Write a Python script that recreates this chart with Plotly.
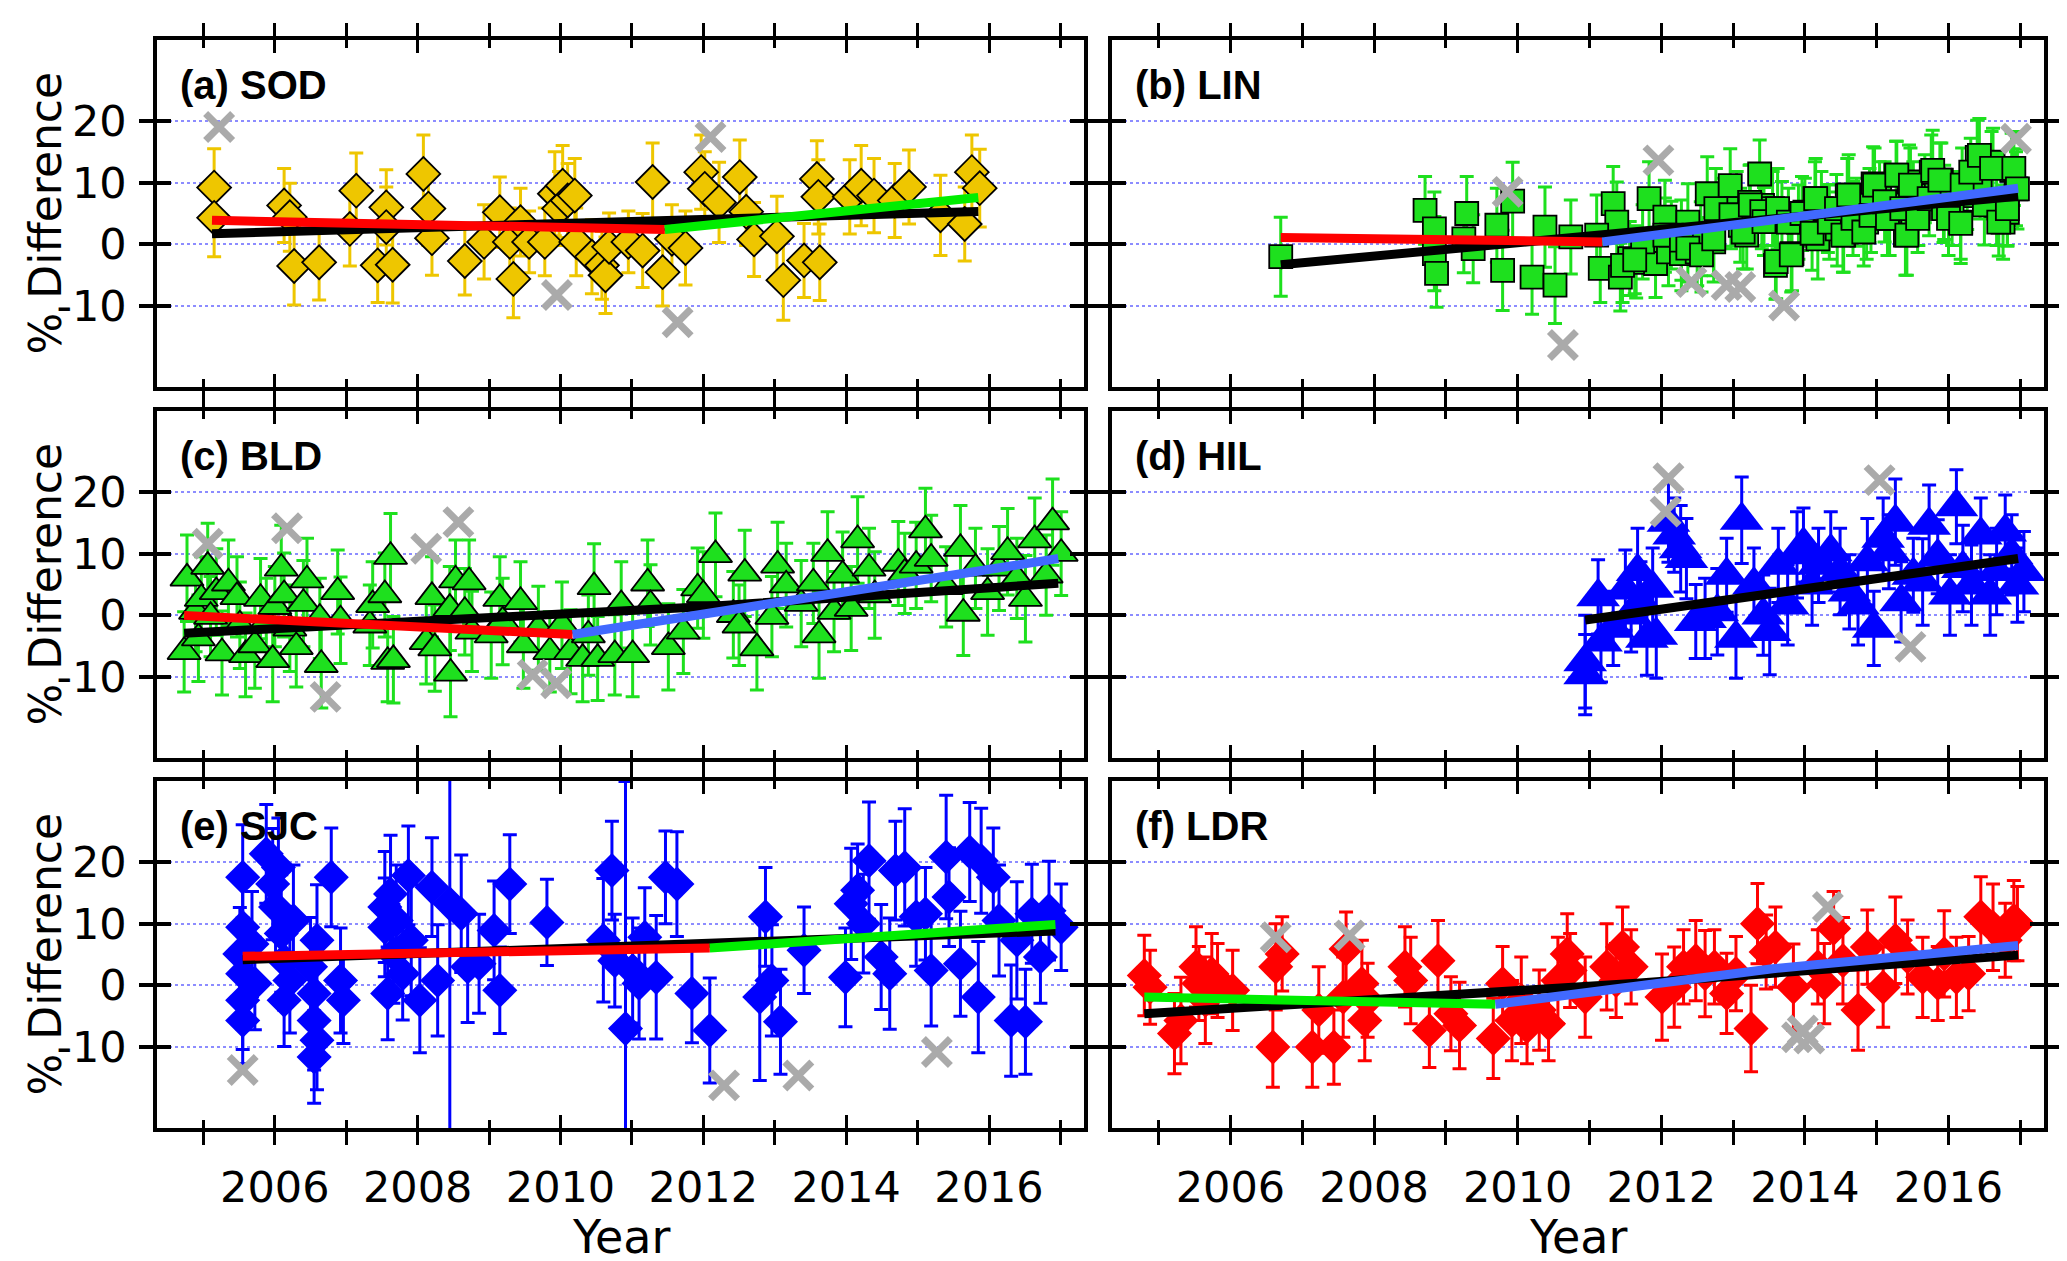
import plotly.graph_objects as go

# percent differences per station

# (a) SOD
sod_year = [2005.15, 2005.15, 2006.13, 2006.21, 2006.27, 2006.62, 2007.05, 2007.14, 2007.44, 2007.56,
            2007.56, 2007.65, 2008.08, 2008.15, 2008.20, 2008.66, 2008.93, 2009.15, 2009.29, 2009.34,
            2009.44, 2009.56, 2009.78, 2009.92, 2009.98, 2010.03, 2010.10, 2010.20, 2010.22, 2010.44,
            2010.58, 2010.63, 2010.68, 2010.95, 2011.15, 2011.29, 2011.43, 2011.56, 2011.75, 2011.97,
            2012.02, 2012.22, 2012.51, 2012.60, 2012.71, 2013.03, 2013.12, 2013.41, 2013.59, 2013.61,
            2013.63, 2014.05, 2014.21, 2014.39, 2014.68, 2014.88, 2015.32, 2015.66, 2015.76, 2015.87]
sod_diff = [9.2, 4.3, 6.3, 4.4, -3.5, -2.9, 2.5, 8.7, -3.4, 6.0,
            2.8, -3.3, 11.4, 5.8, 1.0, -2.7, 0.4, 5.2, 0.4, -5.6,
            3.6, 0.4, 0.4, 8.2, 5.8, 9.5, 7.1, 7.9, 0.4, -2.0,
            -3.4, -5.0, -0.4, 0.4, -1.0, 10.1, -4.5, 0.9, -0.6, 11.7,
            9.0, 6.8, 10.9, 5.3, 0.8, 1.3, -5.8, -2.6, 10.6, 7.7,
            -2.9, 7.7, 9.5, 7.9, 7.1, 9.3, 4.7, 3.3, 11.7, 9.1]
sod_err = [6.3, 6.3, 6.0, 5.5, 6.3, 6.1, 6.0, 6.1, 6.0, 6.1,
           6.5, 6.2, 6.3, 6.0, 6.0, 5.5, 6.0, 5.7, 5.5, 6.3,
           5.5, 5.0, 5.5, 6.8, 6.0, 6.5, 6.0, 6.0, 5.5, 6.0,
           5.5, 6.2, 5.5, 5.0, 6.0, 6.3, 5.5, 5.5, 6.0, 6.0,
           6.0, 6.5, 6.0, 5.5, 6.0, 6.5, 6.5, 6.0, 6.2, 6.0,
           6.2, 6.0, 6.5, 6.0, 6.0, 6.0, 6.5, 6.0, 6.0, 6.3]
sod_out_year = [2005.22, 2009.95, 2012.10, 2011.64]
sod_out_diff = [19.0, -8.2, 17.4, -12.6]
sod_all_year = [2005.12, 2011.80, 2015.85]
sod_all_diff = [1.73, 4.04, 5.34]
sod_early_year = [2005.12, 2008.50, 2011.46]
sod_early_diff = [3.9, 3.0, 2.4]
sod_late_year = [2011.46, 2015.85]
sod_late_diff = [2.4, 7.6]

# (b) LIN
lin_year = [2006.70, 2008.71, 2008.84, 2008.84, 2008.87, 2009.29, 2009.25, 2009.38, 2009.71, 2009.79,
            2009.93, 2010.20, 2010.38, 2010.52, 2010.74, 2011.15, 2011.33, 2011.38, 2011.43, 2011.56,
            2011.65, 2011.83, 2011.92, 2012.05, 2012.10, 2012.28, 2012.37, 2012.50, 2012.64, 2012.73,
            2012.87, 2012.96, 2013.05, 2013.19, 2013.23, 2013.37, 2013.41, 2013.55, 2013.59, 2013.82,
            2013.91, 2014.00, 2014.14, 2014.18, 2014.32, 2014.45, 2014.54, 2014.59, 2014.72, 2014.86,
            2014.95, 2015.04, 2015.18, 2015.27, 2015.40, 2015.45, 2015.58, 2015.67, 2015.76, 2015.90,
            2015.94, 2016.17, 2016.26, 2016.40, 2016.44, 2016.62, 2016.67, 2016.76, 2016.82, 2016.88,
            2016.94, 2011.74, 2012.14, 2012.55, 2013.10, 2013.68, 2014.23, 2014.90, 2015.51, 2016.05,
            2011.10, 2011.46, 2011.63, 2012.05, 2012.28, 2012.37, 2012.56, 2012.73, 2012.76, 2012.97,
            2013.14, 2013.24, 2013.40, 2013.43, 2013.60, 2013.62, 2013.81, 2013.77, 2013.96, 2014.10,
            2014.15, 2014.34, 2014.44, 2014.53, 2014.61, 2014.67, 2014.82, 2014.92, 2014.97, 2015.11,
            2015.15, 2015.28, 2015.35, 2015.42, 2015.47, 2015.57, 2015.73, 2015.78, 2015.88, 2015.93,
            2016.00, 2016.17, 2016.19, 2016.31, 2016.43, 2016.50, 2016.60, 2016.70, 2016.82, 2016.91,
            2016.96]
lin_diff = [-2.0, 5.5, 2.5, -1.5, -4.7, 5.0, 0.9, -0.7, 3.1, -4.2,
            7.0, -5.3, 2.8, -6.6, 1.2, -3.9, 6.6, 3.6, -5.3, -2.3,
            -2.9, 7.4, -3.1, 4.4, -1.2, -1.5, 3.6, -1.2, 8.2, 0.4,
            5.2, 9.5, 5.8, 1.5, 6.8, 11.4, 6.3, 5.8, -3.4, -1.5,
            3.6, 5.2, 7.4, 0.9, 4.2, 2.5, 1.5, 7.9, 5.2, 3.6,
            9.8, 7.9, 4.2, 11.2, 1.5, 10.1, 5.8, 9.0, 11.7, 10.4,
            6.8, 3.6, 7.9, 14.1, 10.1, 13.3, 6.3, 3.6, 5.2, 12.0,
            9.0, 0.4, 1.5, 0.9, 3.1, 4.7, 5.8, 6.3, 7.9, 5.8,
            1.5, -3.4, -2.5, 1.5, 0.7, -0.6, -1.7, 0.9, 5.8, 4.8,
            2.0, 6.4, 5.3, 3.7, -2.8, 5.8, -1.7, 3.6, 5.0, 1.8,
            7.4, 3.6, 5.8, 1.5, 8.0, 4.2, 2.0, 4.7, 9.6, 6.9,
            4.2, 11.2, 5.8, 1.5, 9.6, 4.2, 7.4, 12.0, 10.4, 5.8,
            4.2, 3.4, 9.6, 11.7, 14.4, 6.4, 12.3, 3.6, 5.8, 12.3,
            9.0]
lin_err = [6.4, 5.5, 6.0, 6.0, 5.5, 6.0, 5.5, 5.5, 6.0, 6.5,
           6.3, 6.0, 6.5, 6.2, 6.0, 5.5, 6.0, 6.5, 5.5, 6.0,
           5.8, 6.0, 5.5, 6.0, 5.5, 6.0, 6.2, 5.5, 6.0, 6.5,
           5.5, 6.0, 6.0, 5.5, 6.0, 5.5, 6.5, 6.0, 5.5, 6.0,
           6.0, 5.5, 6.0, 6.5, 5.5, 6.0, 6.0, 6.0, 5.5, 6.0,
           6.0, 5.5, 6.0, 5.5, 6.5, 6.0, 6.0, 5.5, 6.0, 6.0,
           6.0, 6.0, 5.5, 6.0, 6.0, 5.5, 6.5, 6.0, 5.5, 6.0,
           6.0, 6.0, 5.5, 6.0, 6.0, 5.5, 6.0, 6.0, 5.5, 6.0,
           6.5, 6.0, 5.5, 6.0, 6.5, 5.5, 6.0, 6.0, 6.5, 5.5,
           6.0, 6.5, 6.0, 5.5, 6.0, 6.5, 6.0, 5.5, 6.0, 6.0,
           6.5, 6.0, 5.5, 6.0, 6.5, 6.0, 5.5, 6.0, 6.0, 6.5,
           6.0, 5.5, 6.0, 6.5, 6.0, 5.5, 6.0, 6.5, 6.0, 5.5,
           6.0, 6.5, 6.0, 5.5, 6.0, 6.5, 6.0, 5.5, 6.0, 6.0,
           6.5]
lin_out_year = [2009.86, 2011.96, 2012.42, 2012.91, 2013.10, 2013.71, 2010.63, 2016.94]
lin_out_diff = [8.5, 13.6, -6.1, -6.6, -6.9, -9.9, -16.3, 17.1]
lin_all_year = [2006.70, 2011.18, 2016.97]
lin_all_diff = [-3.3, 1.46, 7.8]
lin_early_year = [2006.70, 2009.00, 2011.18]
lin_early_diff = [1.1, 0.75, 0.4]
lin_late_year = [2011.18, 2016.97]
lin_late_diff = [0.4, 9.1]

# (c) BLD
bld_year = [2004.73, 2004.77, 2004.89, 2004.93, 2004.97, 2005.06, 2005.10, 2005.18, 2005.26, 2005.35,
            2005.47, 2005.51, 2005.59, 2005.72, 2005.80, 2005.88, 2005.97, 2006.00, 2006.09, 2006.13,
            2006.21, 2006.30, 2006.40, 2006.45, 2006.63, 2006.65, 2006.88, 2006.92, 2007.33, 2007.37,
            2007.54, 2007.62, 2007.58, 2007.66, 2008.12, 2008.20, 2008.24, 2008.45, 2008.46, 2008.53,
            2008.66, 2008.72, 2008.76, 2009.03, 2009.15, 2009.19, 2009.44, 2009.48, 2009.69, 2009.85,
            2010.02, 2010.14, 2010.31, 2010.39, 2010.47, 2010.52, 2010.76, 2010.85, 2011.01, 2011.22,
            2011.26, 2011.51, 2011.72, 2011.92, 2012.00, 2012.17, 2012.42, 2012.50, 2012.58, 2012.75,
            2012.96, 2013.04, 2013.16, 2013.37, 2013.54, 2013.62, 2013.74, 2013.83, 2013.95, 2014.07,
            2014.16, 2014.32, 2014.40, 2014.73, 2014.82, 2014.98, 2015.11, 2015.19, 2015.40, 2015.60,
            2015.64, 2015.81, 2015.98, 2016.14, 2016.26, 2016.39, 2016.51, 2016.64, 2016.80, 2016.89,
            2017.01]
bld_diff = [-5.9, 6.0, 0.6, -3.7, 2.7, 7.9, -0.2, 3.8, -6.1, 5.2,
            3.0, -1.6, -6.4, -4.8, 2.7, -1.0, -7.2, 1.4, 7.6, 3.3,
            -2.1, -5.1, 1.9, 5.7, -0.5, -8.0, 3.8, -0.8, -1.6, 1.7,
            3.3, 9.5, -7.5, -7.2, -4.3, 3.0, -5.3, 1.1, -9.4, 5.7,
            0.6, 5.4, -2.6, -3.2, 2.7, -1.0, 2.2, -4.8, -2.1, -5.9,
            -1.6, -5.9, -7.0, -3.2, 4.6, -7.0, -6.4, 1.7, -6.4, 5.2,
            1.7, -5.1, -2.6, 4.4, 3.3, 9.8, 0.1, -1.6, 6.8, -5.3,
            -0.2, 8.1, 4.9, 1.9, 5.2, -3.2, 10.0, 0.6, 6.5, 1.1,
            12.2, 7.6, 3.3, 8.4, 6.8, 8.1, 13.8, 9.2, 4.6, 10.8,
            0.3, 7.6, 3.8, 7.6, 10.3, 6.0, 2.7, 12.2, 6.5, 15.1,
            10.0]
bld_err = [6.5, 7.0, 6.5, 7.0, 6.8, 7.0, 6.5, 7.0, 6.8, 7.0,
           6.5, 7.0, 6.8, 7.0, 6.5, 7.0, 6.8, 6.5, 7.0, 6.8,
           7.0, 6.5, 7.0, 6.8, 6.5, 7.0, 6.8, 7.0, 6.5, 7.0,
           6.8, 7.0, 6.5, 7.0, 6.8, 6.5, 7.0, 6.8, 7.0, 6.5,
           7.0, 6.8, 6.5, 7.0, 6.8, 7.0, 6.5, 7.0, 6.8, 6.5,
           7.0, 6.8, 7.0, 6.5, 7.0, 6.8, 6.5, 7.0, 6.8, 7.0,
           6.5, 7.0, 6.8, 6.5, 7.0, 6.8, 7.0, 6.5, 7.0, 6.8,
           6.5, 7.0, 6.8, 7.0, 6.5, 7.0, 6.8, 6.5, 7.0, 6.8,
           7.0, 6.5, 7.0, 6.8, 6.5, 7.0, 6.8, 7.0, 6.5, 7.0,
           6.8, 6.5, 7.0, 6.8, 7.0, 6.5, 7.0, 6.8, 6.5, 7.0,
           6.8]
bld_out_year = [2005.06, 2006.17, 2008.12, 2008.57, 2006.71, 2009.61, 2009.94]
bld_out_diff = [11.6, 14.1, 10.8, 15.1, -13.2, -9.6, -11.0]
bld_all_year = [2004.73, 2012.00, 2016.97]
bld_all_diff = [-2.9, 1.4, 5.2]
bld_early_year = [2004.73, 2007.30, 2010.17]
bld_early_diff = [0.0, -1.55, -3.1]
bld_late_year = [2010.17, 2016.97]
bld_late_diff = [-3.1, 9.2]

# (d) HIL
hil_year = [2010.94, 2010.94, 2011.12, 2011.16, 2011.33, 2011.50, 2011.58, 2011.67, 2011.71, 2011.80,
            2011.88, 2011.93, 2012.10, 2012.18, 2012.27, 2012.35, 2012.48, 2012.61, 2012.78, 2012.91,
            2013.04, 2013.12, 2013.29, 2013.42, 2013.51, 2013.63, 2013.76, 2013.89, 2013.98, 2014.10,
            2014.19, 2014.36, 2014.49, 2014.62, 2014.74, 2014.87, 2014.96, 2015.09, 2015.17, 2015.26,
            2015.34, 2015.51, 2015.64, 2015.73, 2015.85, 2016.02, 2016.11, 2016.20, 2016.32, 2016.45,
            2016.58, 2016.67, 2016.79, 2016.88, 2016.96, 2017.05]
hil_diff = [-7.5, -9.6, 3.0, -4.3, -2.1, 4.1, 0.05, 7.1, 2.2, -3.7,
            4.4, -3.2, 15.1, 13.0, 10.8, 9.2, -1.0, -0.5, 0.6, 6.5,
            -3.7, 15.4, 4.9, 0.05, -2.6, 8.1, 1.7, 9.8, 11.4, 4.9,
            8.1, 10.3, 7.1, 3.8, 1.7, 8.7, -2.1, 12.5, 10.3, 15.1,
            2.2, 6.5, 5.4, 14.6, 9.5, 3.3, 17.6, 7.6, 4.9, 13.0,
            3.3, 7.1, 13.5, 9.8, 4.9, 7.1]
hil_err = [7.5, 6.5, 6.0, 6.5, 6.0, 6.5, 6.0, 7.0, 6.5, 6.0,
           6.5, 7.0, 6.5, 6.0, 7.0, 6.5, 6.0, 6.5, 7.0, 6.0,
           6.5, 7.0, 6.0, 6.5, 7.0, 6.0, 6.5, 7.0, 6.0, 6.5,
           6.0, 6.5, 7.0, 6.0, 6.5, 7.0, 6.0, 6.5, 6.0, 7.0,
           6.5, 6.0, 7.0, 6.5, 6.0, 6.5, 6.0, 7.0, 6.5, 6.0,
           6.5, 7.0, 6.0, 6.5, 6.0, 6.5]
hil_out_year = [2012.10, 2012.06, 2015.04, 2015.47]
hil_out_diff = [22.2, 16.8, 21.9, -5.1]
hil_all_year = [2010.94, 2016.97]
hil_all_diff = [-0.75, 9.2]

# (e) SJC
sjc_year = [2005.55, 2005.55, 2005.51, 2005.55, 2005.55, 2005.55, 2005.68, 2005.72, 2005.88, 2005.97,
            2006.01, 2006.05, 2006.09, 2006.13, 2006.13, 2006.21, 2006.26, 2006.50, 2006.55, 2006.55,
            2006.55, 2006.59, 2006.59, 2006.79, 2006.92, 2006.96, 2007.54, 2007.54, 2007.58, 2007.62,
            2007.66, 2007.70, 2007.79, 2007.87, 2007.91, 2008.03, 2008.20, 2008.28, 2008.45, 2008.61,
            2008.70, 2008.86, 2009.07, 2009.15, 2009.29, 2009.81, 2010.60, 2010.72, 2010.76, 2010.91,
            2011.01, 2011.10, 2011.18, 2011.34, 2011.47, 2011.63, 2011.84, 2012.09, 2012.79, 2012.87,
            2012.96, 2013.08, 2013.41, 2013.99, 2014.07, 2014.16, 2014.24, 2014.32, 2014.49, 2014.61,
            2014.69, 2014.82, 2014.98, 2015.11, 2015.19, 2015.40, 2015.44, 2015.60, 2015.73, 2015.85,
            2015.89, 2016.06, 2016.14, 2016.31, 2016.39, 2016.51, 2016.60, 2016.72, 2016.84, 2017.01]
sjc_diff = [17.5, 9.4, 5.1, 1.9, -2.4, -5.7, 6.7, 0.3, 21.3, 16.4,
            12.7, 19.1, 8.4, 4.0, -2.4, 0.8, 10.5, 3.0, -1.3, -5.7,
            -11.6, 7.3, -8.9, 17.5, 0.8, -2.4, 12.7, 9.4, -1.3, 14.8,
            5.1, 10.5, 1.9, 17.8, 7.3, -2.4, 15.9, 0.8, 13.2, 11.6,
            3.0, 3.5, 8.9, -0.8, 16.4, 10.2, 7.3, 18.6, 4.0, -7.0,
            2.4, 0.3, 7.8, 1.3, 17.5, 16.4, -1.3, -7.3, -1.9, 11.1,
            0.8, -5.9, 5.7, 1.3, 13.2, 15.4, 10.0, 20.2, 4.6, 1.9,
            18.6, 19.1, 11.1, 11.6, 2.4, 20.8, 14.3, 3.5, 21.6, -1.9,
            20.2, 17.5, 10.5, -5.7, 7.3, -5.9, 11.6, 4.6, 12.1, 9.4]
sjc_err = [8.5, 8.0, 7.5, 9.0, 8.0, 7.0, 8.5, 7.5, 8.0, 9.0,
           8.5, 8.0, 9.5, 8.0, 7.5, 8.5, 9.0, 8.0, 9.5, 8.0,
           7.5, 9.0, 8.0, 8.0, 8.5, 7.0, 9.0, 8.0, 7.5, 9.5,
           8.0, 9.0, 7.5, 8.0, 9.0, 8.5, 8.0, 9.0, 40.0, 9.5,
           9.0, 8.0, 8.0, 7.0, 8.0, 7.0, 10.0, 8.0, 7.5, 40.0,
           8.5, 9.0, 8.0, 10.0, 7.5, 8.5, 8.0, 8.5, 13.5, 8.0,
           9.0, 8.5, 7.0, 8.0, 9.0, 7.5, 8.0, 9.5, 8.5, 9.0,
           8.0, 9.5, 8.0, 7.5, 9.0, 10.0, 8.0, 8.5, 8.0, 9.0,
           8.5, 8.0, 9.0, 9.0, 9.5, 8.5, 8.0, 7.5, 8.0, 7.0]
sjc_out_year = [2005.55, 2012.29, 2013.33, 2015.27]
sjc_out_diff = [-13.7, -16.2, -14.6, -10.8]
sjc_all_year = [2005.55, 2016.93]
sjc_all_diff = [4.15, 8.8]
sjc_early_year = [2005.55, 2012.09]
sjc_early_diff = [4.7, 6.04]
sjc_late_year = [2012.09, 2016.93]
sjc_late_diff = [6.04, 9.87]

# (f) LDR
ldr_year = [2004.80, 2004.88, 2005.22, 2005.31, 2005.52, 2005.56, 2005.65, 2005.74, 2005.82, 2006.03,
            2006.59, 2006.63, 2006.72, 2007.14, 2007.23, 2007.44, 2007.57, 2007.61, 2007.83, 2007.87,
            2007.91, 2008.43, 2008.51, 2008.77, 2008.89, 2009.07, 2009.19, 2009.66, 2009.79, 2009.92,
            2010.05, 2010.13, 2010.30, 2010.43, 2010.56, 2010.69, 2010.73, 2010.94, 2011.24, 2011.37,
            2011.46, 2011.58, 2012.01, 2012.18, 2012.31, 2012.48, 2012.61, 2012.74, 2012.91, 2013.04,
            2013.25, 2013.34, 2013.46, 2013.59, 2013.84, 2014.18, 2014.27, 2014.40, 2014.53, 2014.74,
            2014.87, 2015.09, 2015.26, 2015.43, 2015.64, 2015.85, 2015.94, 2016.11, 2016.28, 2016.45,
            2016.62, 2016.79, 2016.91, 2016.96]
ldr_diff = [1.6, -0.3, -7.8, -5.7, 3.0, 0.3, -2.4, 1.9, 0.8, -0.8,
            -10.0, 3.0, 5.1, -10.0, -4.0, -10.0, -1.9, 5.9, 0.3, -5.7,
            -2.4, 3.0, 0.8, -7.3, 4.0, -4.6, -6.5, -8.6, 0.3, -5.7,
            -2.4, -6.7, -4.0, -6.2, 0.8, 5.1, 2.4, -1.9, 3.0, 0.8,
            6.2, 3.0, -1.9, -0.3, 3.0, 4.0, 1.9, 3.0, -1.3, 1.9,
            -7.0, 10.0, 5.4, 6.2, -0.3, 3.0, 0.3, 9.2, 4.0, -4.0,
            6.2, -0.3, 7.3, 4.6, 1.3, 0.3, 5.1, 1.3, 1.9, 11.1,
            9.4, 7.3, 10.5, 10.0]
ldr_err = [6.5, 6.0, 6.5, 7.0, 6.5, 6.0, 7.0, 6.5, 6.0, 6.5,
           6.5, 7.0, 6.0, 6.5, 7.0, 6.0, 6.5, 6.0, 7.0, 6.5,
           6.0, 6.5, 7.0, 6.0, 6.5, 6.0, 7.0, 6.5, 6.0, 6.5,
           7.0, 6.0, 6.5, 6.0, 7.0, 6.5, 6.0, 6.5, 7.0, 6.0,
           6.5, 6.0, 7.0, 6.5, 6.0, 6.5, 7.0, 6.0, 6.5, 6.0,
           7.0, 6.5, 6.0, 6.5, 7.0, 6.0, 6.5, 6.0, 7.0, 6.5,
           6.0, 6.5, 7.0, 6.0, 6.5, 6.0, 7.0, 6.5, 6.0, 6.5,
           7.0, 6.0, 6.5, 6.0]
ldr_out_year = [2006.63, 2007.66, 2014.32, 2013.89, 2014.06, 2013.97]
ldr_out_diff = [7.8, 8.1, 12.7, -8.4, -8.6, -7.3]
ldr_all_year = [2004.80, 2011.60, 2016.97]
ldr_all_diff = [-4.6, 0.3, 4.9]
ldr_early_year = [2004.80, 2007.40, 2009.69]
ldr_early_diff = [-1.9, -2.7, -3.07]
ldr_late_year = [2009.69, 2013.55, 2016.97]
ldr_late_diff = [-3.07, 2.7, 6.47]

y_ticks = [-10, 0, 10, 20]
y_tick_text = ["-10", "0", "10", "20"]

GOLD = "#EEC600"
GREEN = "#1EE01E"
BLUE = "#0000FF"
RED = "#FF0000"
GREY = "#AAAAAA"
FIT_GREEN = "#00EE00"
FIT_BLUE = "#4169FF"

panels = [
    dict(label="(a) SOD", x=sod_year, y=sod_diff, e=sod_err, ox=sod_out_year, oy=sod_out_diff,
         symbol="diamond", size=26, color=GOLD, outline=1.8,
         fits=[(sod_all_year, sod_all_diff, "black"), (sod_early_year, sod_early_diff, RED),
               (sod_late_year, sod_late_diff, FIT_GREEN)]),
    dict(label="(b) LIN", x=lin_year, y=lin_diff, e=lin_err, ox=lin_out_year, oy=lin_out_diff,
         symbol="square", size=23, color=GREEN, outline=1.8,
         fits=[(lin_all_year, lin_all_diff, "black"), (lin_early_year, lin_early_diff, RED),
               (lin_late_year, lin_late_diff, FIT_BLUE)]),
    dict(label="(c) BLD", x=bld_year, y=bld_diff, e=bld_err, ox=bld_out_year, oy=bld_out_diff,
         symbol="triangle-up", size=29, color=GREEN, outline=1.8,
         fits=[(bld_all_year, bld_all_diff, "black"), (bld_early_year, bld_early_diff, RED),
               (bld_late_year, bld_late_diff, FIT_BLUE)]),
    dict(label="(d) HIL", x=hil_year, y=hil_diff, e=hil_err, ox=hil_out_year, oy=hil_out_diff,
         symbol="triangle-up", size=38, color=BLUE, outline=0,
         fits=[(hil_all_year, hil_all_diff, "black")]),
    dict(label="(e) SJC", x=sjc_year, y=sjc_diff, e=sjc_err, ox=sjc_out_year, oy=sjc_out_diff,
         symbol="diamond", size=27, color=BLUE, outline=0,
         fits=[(sjc_all_year, sjc_all_diff, "black"), (sjc_early_year, sjc_early_diff, RED),
               (sjc_late_year, sjc_late_diff, FIT_GREEN)]),
    dict(label="(f) LDR", x=ldr_year, y=ldr_diff, e=ldr_err, ox=ldr_out_year, oy=ldr_out_diff,
         symbol="diamond", size=27, color=RED, outline=0,
         fits=[(ldr_all_year, ldr_all_diff, "black"), (ldr_early_year, ldr_early_diff, FIT_GREEN),
               (ldr_late_year, ldr_late_diff, FIT_BLUE)]),
]

W, H = 2067, 1261
cols = [(149 / W, 1076 / W), (1104 / W, 2036 / W)]
rows = [(1 - 379 / H, 1 - 32 / H), (1 - 750 / H, 1 - 403 / H), (1 - 1120 / H, 1 - 773 / H)]
XR = [2004.35, 2017.33]
YR = [-23.1, 33.1]
TICKFONT = dict(family="DejaVu Sans", size=43, color="black")

fig = go.Figure()
layout = {}
annotations = []

for i, p in enumerate(panels):
    n = i + 1
    r, c = divmod(i, 2)
    xa = "x" if n == 1 else f"x{n}"
    ya = "y" if n == 1 else f"y{n}"
    m = n + 6

    fig.add_trace(go.Scatter(
        x=p["x"], y=p["y"], mode="markers", xaxis=xa, yaxis=ya,
        error_y=dict(type="data", array=p["e"], color=p["color"], thickness=3, width=7),
        marker=dict(symbol=p["symbol"], size=p["size"], color=p["color"],
                    line=dict(color="black", width=p["outline"])),
        showlegend=False))
    fig.add_trace(go.Scatter(
        x=p["ox"], y=p["oy"], mode="markers", xaxis=xa, yaxis=ya,
        marker=dict(symbol="x-thin", size=27, color=GREY, line=dict(color=GREY, width=7)),
        showlegend=False))
    for fx, fy, fc in p["fits"]:
        fig.add_trace(go.Scatter(x=fx, y=fy, mode="lines", xaxis=xa, yaxis=ya,
                                 line=dict(color=fc, width=9), showlegend=False))
    # empty traces so the inward tick axes get drawn
    fig.add_trace(go.Scatter(x=[], y=[], xaxis=f"x{m}", yaxis=ya, showlegend=False))
    fig.add_trace(go.Scatter(x=[], y=[], xaxis=xa, yaxis=f"y{m}", showlegend=False))

    xkey = "xaxis" if n == 1 else f"xaxis{n}"
    ykey = "yaxis" if n == 1 else f"yaxis{n}"
    layout[xkey] = dict(
        domain=list(cols[c]), anchor=ya, range=XR, showline=True, linecolor="black", linewidth=3.5,
        mirror="allticks", ticks="outside", tick0=2006, dtick=2, ticklen=13, tickwidth=3,
        tickcolor="black", showgrid=False, zeroline=False, showticklabels=(r == 2),
        tickfont=TICKFONT, ticklabelstandoff=6,
        minor=dict(tick0=2005, dtick=1, ticks="outside", ticklen=8, tickwidth=3,
                   tickcolor="black", showgrid=False))
    layout[ykey] = dict(
        domain=list(rows[r]), anchor=xa, range=YR, showline=True, linecolor="black", linewidth=3.5,
        mirror="allticks", ticks="outside", tickvals=y_ticks, ticktext=y_tick_text, ticklen=14,
        tickwidth=3.5, tickcolor="black", showgrid=True, gridcolor="#8C8CFF", gridwidth=1.5,
        griddash="dot", zeroline=False, showticklabels=(c == 0), tickfont=TICKFONT,
        ticklabelstandoff=4)
    layout[f"xaxis{m}"] = dict(
        overlaying=xa, anchor=ya, range=XR, showline=False, mirror="allticks", ticks="inside",
        tick0=2006, dtick=2, ticklen=13, tickwidth=3, tickcolor="black", showgrid=False,
        zeroline=False, showticklabels=False,
        minor=dict(tick0=2005, dtick=1, ticks="inside", ticklen=8, tickwidth=3,
                   tickcolor="black", showgrid=False))
    layout[f"yaxis{m}"] = dict(
        overlaying=ya, anchor=xa, range=YR, showline=False, mirror="allticks", ticks="inside",
        tickvals=y_ticks, ticklen=14, tickwidth=3.5, tickcolor="black",
        showgrid=False, zeroline=False, showticklabels=False)

    annotations.append(dict(
        text="<b>" + p["label"] + "</b>", xref=f"{xa} domain", yref=f"{ya} domain",
        x=0.023, y=0.87, xanchor="left", yanchor="middle", showarrow=False,
        font=dict(family="Liberation Sans", size=40, color="black")))

for r in range(3):
    annotations.append(dict(
        text="% Difference", xref="paper", yref="paper", x=37 / W, y=sum(rows[r]) / 2,
        textangle=-90, xanchor="center", yanchor="middle", showarrow=False,
        font=dict(family="DejaVu Sans", size=44, color="black")))
for c in range(2):
    annotations.append(dict(
        text="Year", xref="paper", yref="paper", x=sum(cols[c]) / 2, y=1 - 1229 / H,
        xanchor="center", yanchor="middle", showarrow=False,
        font=dict(family="DejaVu Sans", size=46, color="black")))

fig.update_layout(**layout)
fig.update_layout(width=W, height=H, margin=dict(l=0, r=0, t=0, b=0),
                  paper_bgcolor="white", plot_bgcolor="white", annotations=annotations)

fig.write_html("out.html")
